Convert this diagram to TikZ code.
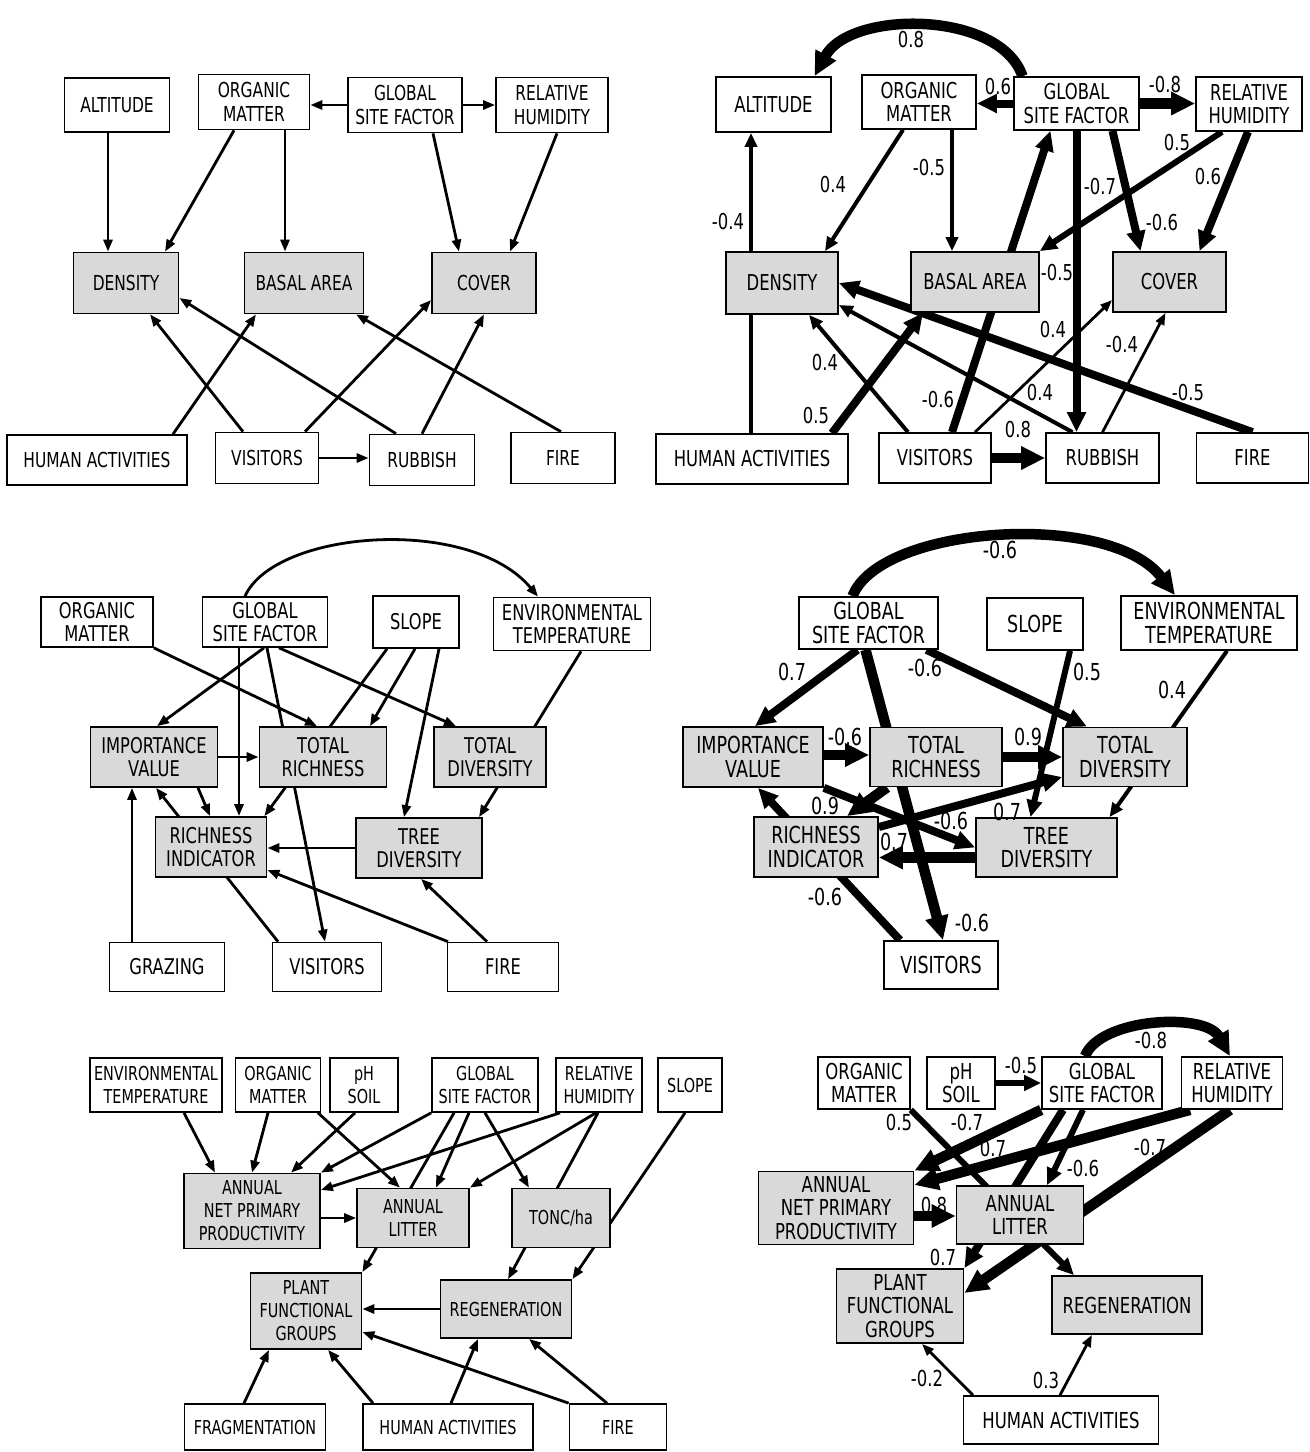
\documentclass[tikz,border=0pt]{standalone}
\usepackage{fontspec}
\newfontfamily\diagfont{DejaVu Sans}[FakeStretch=0.75]
\usetikzlibrary{arrows.meta,backgrounds}

\begin{document}
\begin{tikzpicture}[
    x=1pt, y=-1pt,
    box/.style={draw, line width=1.7pt, fill=white, align=center, inner sep=1pt},
    gbox/.style={box, fill=gray!30},
    sz/.style 2 args={minimum width=#1pt, minimum height=#2pt},
    lab/.style={inner sep=0pt},
    arr/.style={line width=2.8pt, -{Triangle[length=12pt,width=9pt]}},
    arrM/.style={line width=4pt, -{Triangle[length=14pt,width=12pt]}},
    arrT/.style={line width=6pt, -{Triangle[length=17pt,width=15pt]}},
    arrH/.style={line width=8pt, -{Triangle[length=20pt,width=18pt]}},
    arrX/.style={line width=10.5pt, -{Triangle[length=24pt,width=22pt]}},
    fA/.style={font=\diagfont\fontsize{20.6}{23.5}\selectfont},
    fB/.style={font=\diagfont\fontsize{21.9}{23.5}\selectfont},
    fC/.style={font=\diagfont\fontsize{21.7}{23.5}\selectfont},
    fD/.style={font=\diagfont\fontsize{23.4}{23.5}\selectfont},
    fE/.style={font=\diagfont\fontsize{19.2}{23}\selectfont},
    fF/.style={font=\diagfont\fontsize{22}{23.5}\selectfont},
]
    \useasboundingbox (0,0) rectangle (1310,1452);

    % Top left: structure, no weights
    \begin{scope}[fA]
    \node[box, sz={105}{54}] (altA) at (117,105) {ALTITUDE};
    \node[box, sz={111}{55}] (omA) at (254,102) {ORGANIC\\MATTER};
    \node[box, sz={114}{55}] (gsfA) at (405,105) {GLOBAL\\SITE FACTOR};
    \node[box, sz={112}{55}] (rhA) at (552,105) {RELATIVE\\HUMIDITY};
    \node[gbox, sz={105}{61}] (denA) at (126,283) {DENSITY};
    \node[gbox, sz={119}{61}] (baA) at (304,283) {BASAL AREA};
    \node[gbox, sz={104}{61}] (covA) at (484,283) {COVER};
    \node[box, sz={180}{50}] (haA) at (97,460) {HUMAN ACTIVITIES};
    \node[box, sz={103}{51}] (visA) at (267,458) {VISITORS};
    \node[box, sz={105}{51}] (rubA) at (422,460) {RUBBISH};
    \node[box, sz={104}{51}] (fireA) at (563,458) {FIRE};
    \end{scope}

    % Top right: weighted paths
    \begin{scope}[fB]
    \node[box, sz={115}{55}] (altB) at (773.5,104.5) {ALTITUDE};
    \node[box, sz={114}{54}] (omB) at (919,102) {ORGANIC\\MATTER};
    \node[box, sz={125}{53}] (gsfB) at (1076.5,103.5) {GLOBAL\\SITE FACTOR};
    \node[box, sz={106}{54}] (rhB) at (1249,104) {RELATIVE\\HUMIDITY};
    \node[gbox, sz={112}{62}] (denB) at (782,283) {DENSITY};
    \node[gbox, sz={128}{60}] (baB) at (975,282) {BASAL AREA};
    \node[gbox, sz={113}{60}] (covB) at (1169.5,282) {COVER};
    \node[box, sz={192}{50}] (haB) at (752,459) {HUMAN ACTIVITIES};
    \node[box, sz={112}{50}] (visB) at (935,458) {VISITORS};
    \node[box, sz={113}{50}] (rubB) at (1102.5,458) {RUBBISH};
    \node[box, sz={112}{50}] (fireB) at (1252.5,458) {FIRE};
    \foreach \x/\y/\t [count=\i] in {911/40/0.8, 998/87/0.6, 1165/85/-0.8,
        728/222/-0.4, 833/185/0.4, 929/168/-0.5, 938/400/-0.6, 1177/143/0.5,
        1100/187/-0.7, 1162/223/-0.6, 1208/177/0.6, 1057/273/-0.5,
        1188/393/-0.5, 1040/393/0.4, 825/363/0.4, 816/416/0.5,
        1053/330/0.4, 1122/345/-0.4, 1018/430/0.8}
        \node[lab] (lbB\i) at (\x,\y) {\t};
    \end{scope}

    % Middle left
    \begin{scope}[fC]
    \node[box, sz={112}{50}] (omC) at (97,622) {ORGANIC\\MATTER};
    \node[box, sz={125}{50}] (gsfC) at (265,622) {GLOBAL\\SITE FACTOR};
    \node[box, sz={86}{52}] (slC) at (416,622) {SLOPE};
    \node[box, sz={157}{53}] (etC) at (572,624) {ENVIRONMENTAL\\TEMPERATURE};
    \node[gbox, sz={127}{60}] (ivC) at (154,757) {IMPORTANCE\\VALUE};
    \node[gbox, sz={127}{60}] (trC) at (323,757) {TOTAL\\RICHNESS};
    \node[gbox, sz={112}{60}] (tdC) at (490,757) {TOTAL\\DIVERSITY};
    \node[gbox, sz={111}{60}] (riC) at (211,847) {RICHNESS\\INDICATOR};
    \node[gbox, sz={126}{60}] (trdC) at (419,848) {TREE\\DIVERSITY};
    \node[box, sz={115}{49}] (grC) at (167,967) {GRAZING};
    \node[box, sz={109}{49}] (visC) at (327,967) {VISITORS};
    \node[box, sz={111}{49}] (fireC) at (503,967) {FIRE};
    \end{scope}

    % Middle right
    \begin{scope}[fD]
    \node[box, sz={139}{52}] (gsfD) at (868.5,623) {GLOBAL\\SITE FACTOR};
    \node[box, sz={96}{52}] (slD) at (1035,624) {SLOPE};
    \node[box, sz={176}{54}] (etD) at (1209,623) {ENVIRONMENTAL\\TEMPERATURE};
    \node[gbox, sz={140}{60}] (ivD) at (753,757) {IMPORTANCE\\VALUE};
    \node[gbox, sz={132}{59}] (trD) at (936,757) {TOTAL\\RICHNESS};
    \node[gbox, sz={124}{59}] (tdD) at (1125,757) {TOTAL\\DIVERSITY};
    \node[gbox, sz={124}{60}] (riD) at (816,847) {RICHNESS\\INDICATOR};
    \node[gbox, sz={141}{59}] (trdD) at (1046.5,847.5) {TREE\\DIVERSITY};
    \node[box, sz={114}{48}] (visD) at (941,965) {VISITORS};
    \foreach \x/\y/\t [count=\i] in {1000/550/-0.6, 792/672/0.7, 925/668/-0.6,
        1087/672/0.5, 1172/690/0.4, 845/737/-0.6, 1028/737/0.9, 825/806/0.9,
        1007/812/0.7, 951/821/-0.6, 894/842/0.7, 825/897/-0.6, 972/923/-0.6}
        \node[lab] (lbD\i) at (\x,\y) {\t};
    \end{scope}

    % Bottom left
    \begin{scope}[fE]
    \node[box, sz={132}{54}] (etE) at (156,1085) {ENVIRONMENTAL\\TEMPERATURE};
    \node[box, sz={85}{54}] (omE) at (278,1085) {ORGANIC\\MATTER};
    \node[box, sz={68}{54}] (phE) at (364,1085) {pH\\SOIL};
    \node[box, sz={106}{54}] (gsfE) at (485,1085) {GLOBAL\\SITE FACTOR};
    \node[box, sz={86}{54}] (rhE) at (599,1085) {RELATIVE\\HUMIDITY};
    \node[box, sz={64}{54}] (slE) at (690,1085) {SLOPE};
    \node[gbox, sz={136}{75}] (anppE) at (252,1211) {ANNUAL\\NET PRIMARY\\PRODUCTIVITY};
    \node[gbox, sz={112}{59}] (alE) at (413,1218) {ANNUAL\\LITTER};
    \node[gbox, sz={98}{59}] (toncE) at (561,1218) {TONC/ha};
    \node[gbox, sz={111}{76}] (pfgE) at (306,1311) {PLANT\\FUNCTIONAL\\GROUPS};
    \node[gbox, sz={131}{58}] (regE) at (506,1309) {REGENERATION};
    \node[box, sz={141}{46}] (fragE) at (255,1427) {FRAGMENTATION};
    \node[box, sz={170}{46}] (haE) at (448,1427) {HUMAN ACTIVITIES};
    \node[box, sz={97}{46}] (fireE) at (618,1427) {FIRE};
    \end{scope}

    % Bottom right
    \begin{scope}[fF]
    \node[box, sz={92}{52}] (omF) at (864,1083) {ORGANIC\\MATTER};
    \node[box, sz={68}{52}] (phF) at (961,1083) {pH\\SOIL};
    \node[box, sz={120}{52}] (gsfF) at (1102,1083) {GLOBAL\\SITE FACTOR};
    \node[box, sz={101}{52}] (rhF) at (1232,1083) {RELATIVE\\HUMIDITY};
    \node[gbox, sz={155}{73}] (anppF) at (836,1208) {ANNUAL\\NET PRIMARY\\PRODUCTIVITY};
    \node[gbox, sz={127}{58}] (alF) at (1020,1215) {ANNUAL\\LITTER};
    \node[gbox, sz={127}{74}] (pfgF) at (900,1306) {PLANT\\FUNCTIONAL\\GROUPS};
    \node[gbox, sz={150}{58}] (regF) at (1127,1305) {REGENERATION};
    \node[box, sz={195}{48}] (haF) at (1061,1420) {HUMAN ACTIVITIES};
    \foreach \x/\y/\t [count=\i] in {1151/1040/-0.8, 1021/1065/-0.5, 899/1122/0.5,
        967/1122/-0.7, 993/1148/0.7, 1083/1168/-0.6, 1150/1147/-0.7,
        934/1205/0.8, 943/1257/0.7, 927/1378/-0.2, 1046/1380/0.3}
        \node[lab] (lbF\i) at (\x,\y) {\t};
    \end{scope}

    \begin{scope}[on background layer]
    % Arrows, top left
    \draw[arr] ([xshift=-9pt]altA.south) -- ([xshift=-9pt]altA.south |- denA.north);
    \draw[arr] ([xshift=-20pt]omA.south) -- ([xshift=39pt]denA.north);
    \draw[arr] ([xshift=31pt]omA.south) -- ([xshift=31pt]omA.south |- baA.north);
    \draw[arr] (gsfA.west) -- (gsfA.west -| omA.east);
    \draw[arr] (gsfA.east) -- (gsfA.east -| rhA.west);
    \draw[arr] ([xshift=28pt]gsfA.south) -- ([xshift=-25pt]covA.north);
    \draw[arr] ([xshift=5pt]rhA.south) -- ([xshift=26pt]covA.north);
    \draw[arr] ([xshift=-24pt]visA.north) -- ([xshift=24pt]denA.south);
    \draw[arr] ([xshift=-26pt]rubA.north) -- ([yshift=-15pt]denA.east);
    \draw[arr] ([xshift=76pt]haA.north) -- ([xshift=-48pt]baA.south);
    \draw[arr] ([xshift=38pt]visA.north) -- ([yshift=-17pt]covA.west);
    \draw[arr] (rubA.north) -- (covA.south);
    \draw[arr] ([xshift=-2pt]fireA.north) -- ([xshift=52pt]baA.south);
    \draw[arr] (visA.east) -- (visA.east -| rubA.west);

    % Arrows, top right
    \draw[arrX] ([xshift=-54pt]gsfB.north) .. controls (1000,10) and (850,10) .. ([xshift=41pt]altB.north);
    \draw[arrH] (gsfB.west) -- (gsfB.west -| omB.east);
    \draw[arrX] (gsfB.east) -- (gsfB.east -| rhB.west);
    \draw[arrM] ([xshift=-1pt]haB.north) -- ([xshift=-1pt]haB.north |- altB.south);
    \draw[arrM] ([xshift=-16pt]omB.south) -- ([xshift=43pt]denB.north);
    \draw[arrM] ([xshift=33pt]omB.south) -- ([xshift=33pt]omB.south |- baB.north);
    \draw[arrH] ([xshift=17pt]visB.north) -- ([xshift=-26pt]gsfB.south);
    \draw[arrT] ([xshift=-27pt]rhB.south) -- (baB.north east);
    \draw[arrH] (gsfB.south) -- (gsfB.south |- rubB.north);
    \draw[arrH] ([xshift=36pt]gsfB.south) -- ([xshift=-29pt]covB.north);
    \draw[arrH] ([xshift=-1pt]rhB.south) -- ([xshift=30pt]covB.north);
    \draw[arrH] (fireB.north) -- (denB.east);
    \draw[arrM] ([xshift=-30pt]rubB.north) -- ([yshift=-22pt]denB.east);
    \draw[arrM] ([xshift=-27pt]visB.north) -- ([xshift=27pt]denB.south);
    \draw[arrH] ([xshift=80pt]haB.north) -- ([xshift=-52pt]baB.south);
    \draw[arr] ([xshift=40pt]visB.north) -- ([yshift=-18pt]covB.west);
    \draw[arr] (rubB.north) -- ([xshift=-4pt]covB.south);
    \draw[arrX] (visB.east) -- (visB.east -| rubB.west);

    % Arrows, middle left
    \draw[arr] ([xshift=-20pt]gsfC.north) .. controls (275,530) and (470,515) .. ([xshift=-34pt]etC.north);
    \draw[arr] (omC.south east) -- ([xshift=-6pt]trC.north);
    \draw[arr] ([xshift=-1pt]gsfC.south) -- ([xshift=3pt]ivC.north);
    \draw[arr] ([xshift=-26pt]gsfC.south) -- ([xshift=-26pt]gsfC.south |- riC.north);
    \draw[arr] ([xshift=2pt]gsfC.south) -- ([xshift=-2pt]visC.north);
    \draw[arr] ([xshift=14pt]gsfC.south) -- ([xshift=-34pt]tdC.north);
    \draw[arr] ([xshift=-29pt]slC.south) -- ([xshift=-3pt]riC.north east);
    \draw[arr] ([xshift=-1pt]slC.south) -- ([xshift=47pt]trC.north);
    \draw[arr] ([xshift=23pt]slC.south) -- ([xshift=-15pt]trdC.north);
    \draw[arr] ([xshift=9pt]etC.south) -- ([xshift=60pt]trdC.north);
    \draw[arr] (ivC.east) -- (ivC.east -| trC.west);
    \draw[arr] ([xshift=-49pt]visC.north) -- ([xshift=2pt]ivC.south);
    \draw[arr] ([xshift=44pt]ivC.south) -- ([xshift=-1pt]riC.north);
    \draw[arr] (trdC.west) -- (trdC.west -| riC.east);
    \draw[arr] ([xshift=-35pt]grC.north) -- ([xshift=-35pt]grC.north |- ivC.south);
    \draw[arr] ([xshift=-55pt]fireC.north) -- ([yshift=-23pt]riC.east);
    \draw[arr] ([xshift=-16pt]fireC.north) -- ([xshift=2pt]trdC.south);

    % Arrows, middle right
    \draw[arrX] ([xshift=-16pt]gsfD.north) .. controls (880,525) and (1110,510) .. ([xshift=-34pt]etD.north);
    \draw[arrH] ([xshift=-11pt]gsfD.south) -- ([xshift=2pt]ivD.north);
    \draw[arrX] ([xshift=-3pt]gsfD.south) -- ([xshift=2pt]visD.north);
    \draw[arrH] ([xshift=58pt]gsfD.south) -- ([xshift=-38pt]tdD.north);
    \draw[arrT] ([xshift=35pt]slD.south) -- ([xshift=-16pt]trdD.north);
    \draw[arrM] ([xshift=18pt]etD.south) -- ([xshift=63pt]trdD.north);
    \draw[arrX] ([yshift=2pt]ivD.east) -- ([yshift=2pt]ivD.east -| trD.west);
    \draw[arrX] (trD.east) -- (trD.east -| tdD.west);
    \draw[arrX] ([xshift=-49pt]trD.south) -- ([xshift=31pt]riD.north);
    \draw[arrH] ([yshift=20pt]riD.east) -- ([yshift=-20pt]tdD.west);
    \draw[arrH] (ivD.south east) -- (trdD.west);
    \draw[arrX] ([yshift=-10pt]trdD.west) -- ([yshift=-10pt]trdD.west -| riD.east);
    \draw[arrH] ([xshift=-41pt]visD.north) -- ([xshift=5pt]ivD.south);

    % Arrows, bottom left
    \draw[arr] ([xshift=28pt]etE.south) -- ([xshift=-37pt]anppE.north);
    \draw[arr] ([xshift=-10pt]omE.south) -- (anppE.north);
    \draw[arr] ([xshift=-9pt]phE.south) -- ([xshift=39pt]anppE.north);
    \draw[arr] ([xshift=40pt]omE.south) -- ([xshift=-13pt]alE.north);
    \draw[arr] (gsfE.south west) -- (anppE.north east);
    \draw[arr] ([xshift=-39pt]rhE.south) -- ([yshift=21pt]anppE.east);
    \draw[arr] ([xshift=-31pt]gsfE.south) -- (pfgE.north east);
    \draw[arr] ([xshift=-16pt]gsfE.south) -- ([xshift=23pt]alE.north);
    \draw[arr] ([xshift=-3pt]rhE.south) -- (alE.north east);
    \draw[arr] (gsfE.south) -- ([xshift=-32pt]toncE.north);
    \draw[arr] ([xshift=-1pt]rhE.south) -- ([xshift=2pt]regE.north);
    \draw[arr] ([xshift=-5pt]slE.south) -- (regE.north east);
    \draw[arr] ([yshift=-7pt]anppE.east) -- ([yshift=-7pt]anppE.east -| alE.west);
    \draw[arr] (regE.west) -- (regE.west -| pfgE.east);
    \draw[arr] ([xshift=-11pt]fragE.north) -- ([xshift=-37pt]pfgE.south);
    \draw[arr] ([xshift=-75pt]haE.north) -- ([xshift=22pt]pfgE.south);
    \draw[arr] ([xshift=3pt]haE.north) -- ([xshift=-28pt]regE.south);
    \draw[arr] (fireE.north west) -- ([yshift=-21pt]pfgE.east);
    \draw[arr] ([xshift=-11pt]fireE.north) -- ([xshift=23pt]regE.south);

    % Arrows, bottom right
    \draw[arrX] ([xshift=-17pt]gsfF.north) .. controls (1100,1018) and (1205,1012) .. ([xshift=-2pt]rhF.north);
    \draw[arrT] (phF.east) -- (phF.east -| gsfF.west);
    \draw[arrT] (omF.south east) -- ([xshift=-53pt]regF.north);
    \draw[arrX] (gsfF.south west) -- (anppF.north east);
    \draw[arrX] ([xshift=-42pt]rhF.south) -- ([yshift=23pt]anppF.east);
    \draw[arrH] ([xshift=-39pt]gsfF.south) -- (pfgF.north east);
    \draw[arrT] ([xshift=-19pt]gsfF.south) -- ([xshift=27pt]alF.north);
    \draw[arrX] ([xshift=-2pt]rhF.south) -- ([yshift=13pt]pfgF.east);
    \draw[arrX] ([yshift=-8pt]anppF.east) -- ([yshift=-8pt]anppF.east -| alF.west);
    \draw[arr] ([xshift=-88pt]haF.north) -- ([xshift=22pt]pfgF.south);
    \draw[arr] ([xshift=-1pt]haF.north) -- ([xshift=-35pt]regF.south);
    \end{scope}
\end{tikzpicture}
\end{document}
